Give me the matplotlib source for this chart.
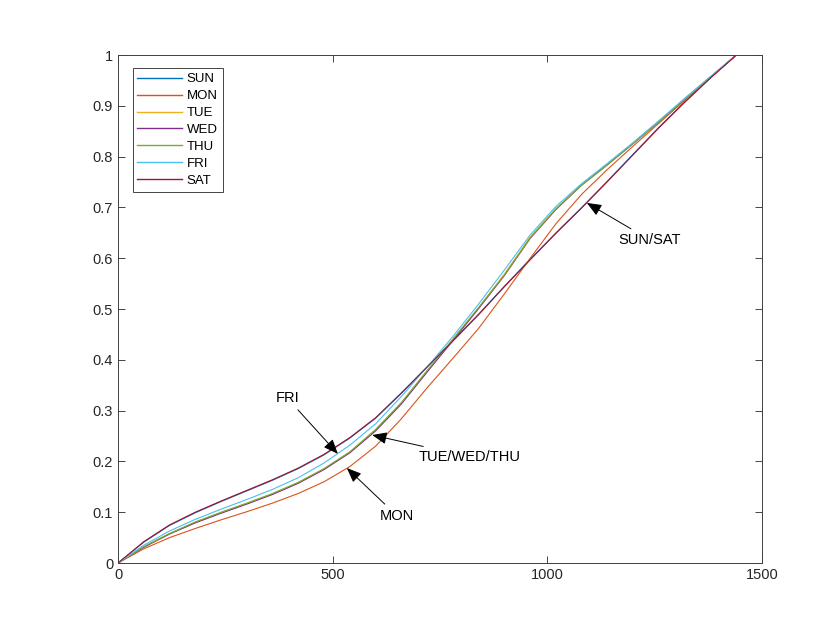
import matplotlib
matplotlib.use('Agg')
import matplotlib.pyplot as plt

plt.rcParams['font.family'] = ['Liberation Sans', 'DejaVu Sans']

# minutes of the day
minutes = [0, 60, 120, 180, 240, 300, 360, 420, 480, 540, 600, 660, 720,
           780, 840, 900, 960, 1020, 1080, 1140, 1200, 1260, 1320, 1380, 1440]

sun = [0, 0.041, 0.074, 0.099, 0.121, 0.142, 0.163, 0.186, 0.213, 0.246, 0.285, 0.334, 0.386,
       0.438, 0.490, 0.545, 0.598, 0.650, 0.700, 0.752, 0.805, 0.858, 0.908, 0.955, 1.0]
mon = [0, 0.028, 0.050, 0.068, 0.085, 0.101, 0.118, 0.137, 0.160, 0.190, 0.230, 0.284, 0.345,
       0.403, 0.462, 0.530, 0.600, 0.668, 0.726, 0.775, 0.821, 0.866, 0.911, 0.956, 1.0]
tue = [0, 0.032, 0.058, 0.080, 0.099, 0.117, 0.136, 0.158, 0.185, 0.218, 0.262, 0.315, 0.378,
       0.440, 0.503, 0.569, 0.642, 0.698, 0.745, 0.785, 0.827, 0.870, 0.914, 0.957, 1.0]
wed = [0, 0.031, 0.057, 0.079, 0.098, 0.116, 0.135, 0.157, 0.184, 0.217, 0.260, 0.313, 0.376,
       0.438, 0.501, 0.566, 0.639, 0.696, 0.744, 0.784, 0.826, 0.869, 0.913, 0.957, 1.0]
thu = [0, 0.032, 0.058, 0.081, 0.100, 0.118, 0.137, 0.159, 0.186, 0.219, 0.263, 0.316, 0.379,
       0.441, 0.503, 0.567, 0.640, 0.697, 0.744, 0.784, 0.826, 0.869, 0.913, 0.957, 1.0]
fri = [0, 0.035, 0.063, 0.086, 0.106, 0.125, 0.145, 0.168, 0.197, 0.232, 0.274, 0.328, 0.386,
       0.446, 0.510, 0.577, 0.646, 0.702, 0.747, 0.787, 0.828, 0.871, 0.915, 0.958, 1.0]
sat = [0, 0.042, 0.075, 0.100, 0.122, 0.143, 0.164, 0.187, 0.214, 0.247, 0.286, 0.335, 0.386,
       0.437, 0.489, 0.544, 0.597, 0.649, 0.699, 0.751, 0.804, 0.857, 0.907, 0.955, 1.0]

days = ['SUN', 'MON', 'TUE', 'WED', 'THU', 'FRI', 'SAT']
series = [sun, mon, tue, wed, thu, fri, sat]
colors = ['#0072BD', '#D95319', '#EDB120', '#7E2F8E', '#77AC30', '#4DBEEE', '#A2142F']

fig = plt.figure(figsize=(8.31, 6.26), dpi=100)
ax = fig.add_axes([0.142, 0.1006, 0.775, 0.8114])

for name, vals, c in zip(days, series, colors):
    ax.plot(minutes, vals, color=c, lw=0.8, label=name)

ax.set_xlim(0, 1500)
ax.set_ylim(0, 1)
ax.set_xticks([0, 500, 1000, 1500])
ax.set_yticks([i / 10 for i in range(11)])
ax.set_yticklabels(['0', '0.1', '0.2', '0.3', '0.4', '0.5', '0.6', '0.7', '0.8', '0.9', '1'])
ax.tick_params(direction='in', top=True, right=True, length=5, width=0.6,
               colors='#262626', labelsize=10.5)
for s in ax.spines.values():
    s.set_color('#404040')
    s.set_linewidth(0.7)

leg = ax.legend(loc='upper left', bbox_to_anchor=(0.023, 0.974), fontsize=9.5,
                handlelength=3.4, handletextpad=0.35, labelspacing=0.36,
                borderpad=0.35, borderaxespad=0, fancybox=False, framealpha=1,
                edgecolor='#262626')
leg.get_frame().set_linewidth(0.6)
for h in leg.get_lines():
    h.set_linewidth(1.0)

arrow = dict(arrowstyle='-|>,head_length=0.85,head_width=0.35', color='black',
             lw=0.7, shrinkA=2, shrinkB=0)
ax.annotate('FRI', xy=(512, 0.215), xytext=(394, 0.325), ha='center', va='center',
            fontsize=10.5, arrowprops=arrow)
ax.annotate('TUE/WED/THU', xy=(592, 0.252), xytext=(700, 0.209), ha='left', va='center',
            fontsize=10.5, arrowprops=arrow)
ax.annotate('MON', xy=(533, 0.187), xytext=(650, 0.093), ha='center', va='center',
            fontsize=10.5, arrowprops=arrow)
ax.annotate('SUN/SAT', xy=(1092, 0.709), xytext=(1239, 0.636), ha='center', va='center',
            fontsize=10.5, arrowprops=arrow)

fig.savefig('out.png', dpi=100)
